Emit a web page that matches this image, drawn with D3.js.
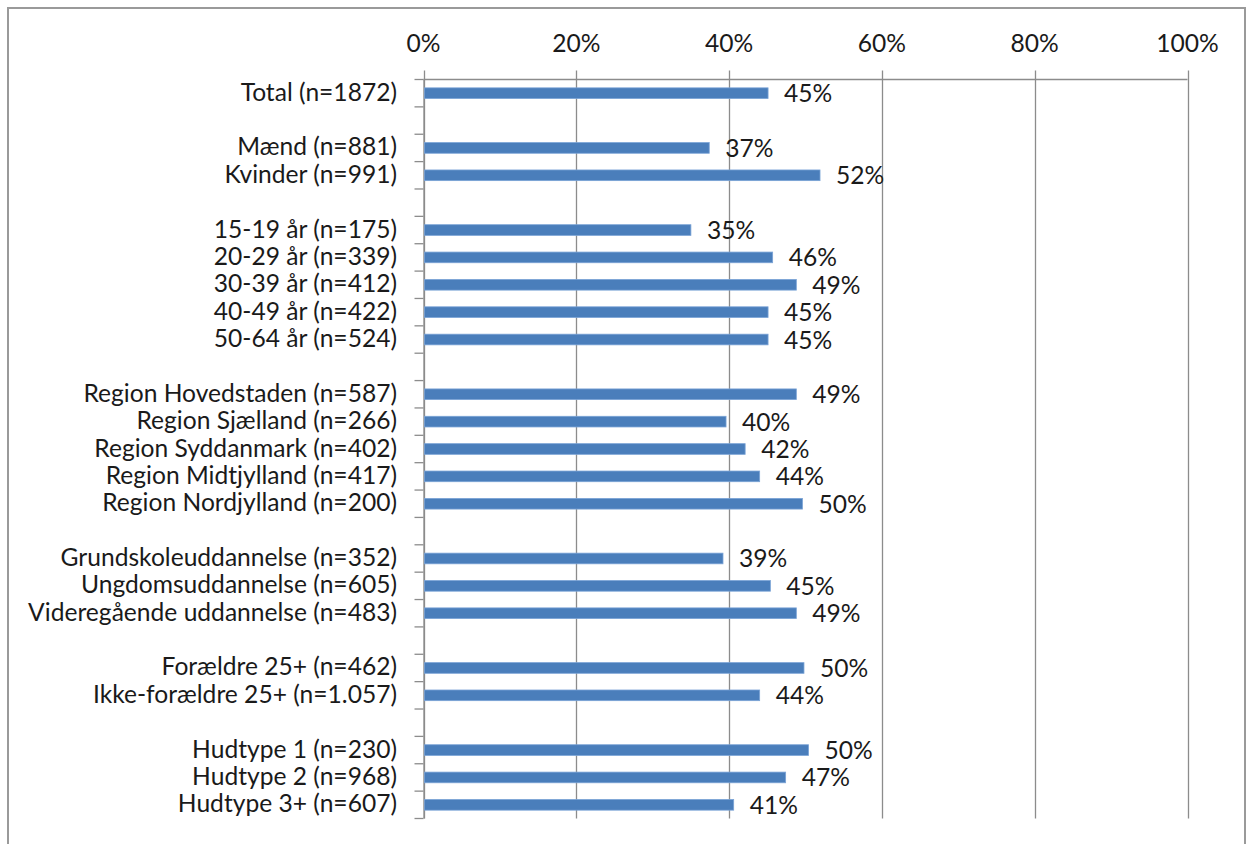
<!DOCTYPE html>
<html>
<head>
<meta charset="utf-8">
<script src="https://cdn.jsdelivr.net/npm/d3@7"></script>
<style>
  html, body { margin: 0; padding: 0; background: #ffffff; }
  svg { display: block; }
  text { font-family: Lato, "Open Sans", sans-serif; fill: #1a1a1a; }
</style>
</head>
<body>
<svg id="chart" width="1247" height="844"></svg>
<script>
// ---- data (blank strings are the empty spacer rows between groups) ----
const categories = [
  "Total (n=1872)",
  "",
  "Mænd (n=881)",
  "Kvinder (n=991)",
  "",
  "15-19 år (n=175)",
  "20-29 år (n=339)",
  "30-39 år (n=412)",
  "40-49 år (n=422)",
  "50-64 år (n=524)",
  "",
  "Region Hovedstaden (n=587)",
  "Region Sjælland (n=266)",
  "Region Syddanmark (n=402)",
  "Region Midtjylland (n=417)",
  "Region Nordjylland (n=200)",
  "",
  "Grundskoleuddannelse (n=352)",
  "Ungdomsuddannelse (n=605)",
  "Videregående uddannelse (n=483)",
  "",
  "Forældre 25+ (n=462)",
  "Ikke-forældre 25+ (n=1.057)",
  "",
  "Hudtype 1 (n=230)",
  "Hudtype 2 (n=968)",
  "Hudtype 3+ (n=607)"
];
const values = [
  45.1, null,
  37.4, 51.9, null,
  35.0, 45.7, 48.8, 45.1, 45.1, null,
  48.8, 39.6, 42.1, 44.0, 49.6, null,
  39.2, 45.4, 48.8, null,
  49.8, 44.0, null,
  50.4, 47.4, 40.6
];
const valueLabels = [
  "45%", "",
  "37%", "52%", "",
  "35%", "46%", "49%", "45%", "45%", "",
  "49%", "40%", "42%", "44%", "50%", "",
  "39%", "45%", "49%", "",
  "50%", "44%", "",
  "50%", "47%", "41%"
];
const xTicks = [0, 20, 40, 60, 80, 100];
const xTickLabels = ["0%", "20%", "40%", "60%", "80%", "100%"];

// ---- layout ----
const plot = { left: 423.5, right: 1187.5, top: 79.5, bottom: 818.5 };
const gridColor = "#8c8c8c";
const barColor = "#4a7ebb";
const fontSize = 24.6;

const svg = d3.select("#chart");

// outer frame
svg.append("rect")
  .attr("x", 8).attr("y", 8)
  .attr("width", 1237).attr("height", 860)
  .attr("fill", "none")
  .attr("stroke", "#9a9a9a")
  .attr("stroke-width", 2);

const x = d3.scaleLinear().domain([0, 100]).range([plot.left, plot.right]);
const y = d3.scaleBand()
  .domain(d3.range(categories.length))
  .range([plot.top, plot.bottom])
  .paddingInner(0.61)
  .paddingOuter(0.305);
const step = y.step();

// vertical gridlines (extend above the axis like tick marks)
svg.append("g").selectAll("line")
  .data(xTicks)
  .join("line")
  .attr("x1", d => Math.round(x(d)) + 0.5)
  .attr("x2", d => Math.round(x(d)) + 0.5)
  .attr("y1", plot.top - 9)
  .attr("y2", plot.bottom)
  .attr("stroke", gridColor)
  .attr("stroke-width", 1.3);

// top axis line
svg.append("line")
  .attr("x1", plot.left).attr("x2", plot.right)
  .attr("y1", plot.top).attr("y2", plot.top)
  .attr("stroke", gridColor).attr("stroke-width", 1.3);

// left axis line
svg.append("line")
  .attr("x1", plot.left + 0.5).attr("x2", plot.left + 0.5)
  .attr("y1", plot.top).attr("y2", plot.bottom)
  .attr("stroke", gridColor).attr("stroke-width", 1.3);

// left tick marks at category boundaries
svg.append("g").selectAll("line")
  .data(d3.range(categories.length + 1))
  .join("line")
  .attr("x1", plot.left - 9).attr("x2", plot.left)
  .attr("y1", i => plot.top + i * step)
  .attr("y2", i => plot.top + i * step)
  .attr("stroke", gridColor).attr("stroke-width", 1.3);

// x tick labels (top)
svg.append("g").selectAll("text")
  .data(xTicks)
  .join("text")
  .attr("x", d => x(d))
  .attr("y", 51.5)
  .attr("text-anchor", "middle")
  .style("font-size", fontSize + "px")
  .text((d, i) => xTickLabels[i]);

const rows = categories.map((c, i) => ({ i, c, v: values[i], lab: valueLabels[i] }));

// bars
svg.append("g").selectAll("rect")
  .data(rows.filter(r => r.v !== null))
  .join("rect")
  .attr("x", x(0) + 1)
  .attr("y", r => y(r.i))
  .attr("width", r => x(r.v) - x(0) - 1)
  .attr("height", y.bandwidth())
  .attr("fill", barColor)
  .attr("stroke", "#7aa3d6")
  .attr("stroke-width", 0.8);

// category labels
svg.append("g").selectAll("text")
  .data(rows.filter(r => r.c !== ""))
  .join("text")
  .attr("x", 397)
  .attr("y", r => y(r.i) + y.bandwidth() / 2 + 7.5)
  .attr("text-anchor", "end")
  .style("font-size", fontSize + "px")
  .text(r => r.c);

// value labels
svg.append("g").selectAll("text")
  .data(rows.filter(r => r.v !== null))
  .join("text")
  .attr("x", r => x(r.v) + 16)
  .attr("y", r => y(r.i) + y.bandwidth() / 2 + 9)
  .attr("text-anchor", "start")
  .style("font-size", fontSize + "px")
  .text(r => r.lab);
</script>
</body>
</html>
